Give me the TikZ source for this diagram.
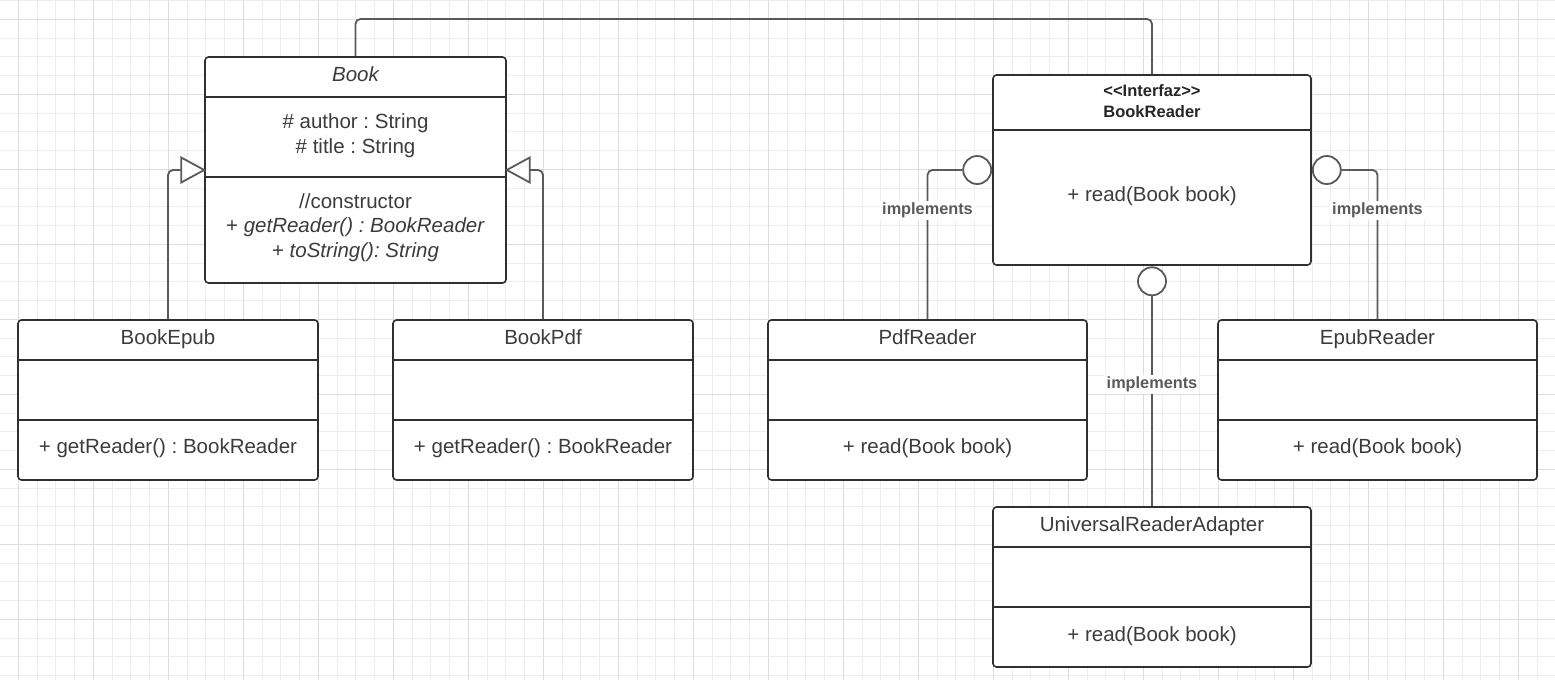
\documentclass[tikz,border=0pt]{standalone}
\usepackage{fontspec}
\setmainfont{Liberation Sans}
\usetikzlibrary{calc}
\frenchspacing
\definecolor{gridlt}{HTML}{EDEDED}
\definecolor{griddk}{HTML}{DDDDDD}
\definecolor{boxline}{HTML}{2F3033}
\definecolor{connline}{HTML}{5A5A5A}
\definecolor{txtcol}{HTML}{3C3C40}
\tikzset{
  classbox/.style={draw=boxline, line width=1.6pt, fill=white, rounded corners=3.5pt, inner sep=0pt},
  divider/.style={draw=boxline, line width=1.6pt},
  txt/.style={text=txtcol, font=\fontsize{20.5}{24.7}\selectfont, inner sep=0pt, align=center},
  oneline/.style={txt, text height=15.5pt, text depth=4.5pt},
  conn/.style={draw=connline, line width=1.8pt, rounded corners=5pt},
  lolli/.style={circle, draw=connline, line width=1.8pt, fill=white, minimum size=28pt, inner sep=0pt},
  impl/.style={text=connline, fill=white, font=\bfseries\fontsize{16.3}{18}\selectfont, inner sep=2pt, text height=12pt, text depth=3.5pt},
  gentri/.style={draw=connline, line width=1.8pt, fill=white, line join=miter},
}
\begin{document}
\begin{tikzpicture}[x=1pt,y=-1pt]
\useasboundingbox (0,0) rectangle (1555,680);
\fill[white] (0,0) rectangle (1555,680);
% grid
\foreach \i in {0,...,83} {
  \draw[gridlt, line width=0.9pt] ({-0.5+\i*18.75},0) -- ({-0.5+\i*18.75},680);
}
\foreach \i in {0,...,37} {
  \draw[gridlt, line width=0.9pt] (0,{0.5+\i*18.75}) -- (1555,{0.5+\i*18.75});
}
\foreach \i in {0,...,20} {
  \draw[griddk, line width=0.8pt] ({18.3+\i*75},0) -- ({18.3+\i*75},680);
}
\foreach \i in {0,...,9} {
  \draw[griddk, line width=0.8pt] (0,{19.3+\i*75}) -- (1555,{19.3+\i*75});
}

% ---- boxes ----
\node[classbox, minimum width=301pt, minimum height=226pt] (book) at (355.5,170) {};
\node[classbox, minimum width=300pt, minimum height=160pt] (bookepub) at (168,400) {};
\node[classbox, minimum width=300pt, minimum height=160pt] (bookpdf) at (543,400) {};
\node[classbox, minimum width=318pt, minimum height=190pt] (bookreader) at (1152,170) {};
\node[classbox, minimum width=319pt, minimum height=160pt] (pdfreader) at (927.5,400) {};
\node[classbox, minimum width=319pt, minimum height=160pt] (epubreader) at (1377.5,400) {};
\node[classbox, minimum width=318pt, minimum height=160pt] (ura) at (1152,587) {};

% dividers
\draw[divider] (book.west |- 0,97) -- (book.east |- 0,97);
\draw[divider] (book.west |- 0,177) -- (book.east |- 0,177);
\foreach \b in {bookepub,bookpdf,pdfreader,epubreader} {
  \draw[divider] (\b.west |- 0,360) -- (\b.east |- 0,360);
  \draw[divider] (\b.west |- 0,420) -- (\b.east |- 0,420);
}
\draw[divider] (ura.west |- 0,547) -- (ura.east |- 0,547);
\draw[divider] (ura.west |- 0,607) -- (ura.east |- 0,607);
\draw[divider] (bookreader.west |- 0,130) -- (bookreader.east |- 0,130);

% ---- texts ----
\node[oneline] (booktitle) at (355.5,76) {\itshape Book};
\node[txt] (bookattr) at (355.5,135.5) {\# author : String\\\# title : String};
\node[txt] (bookmeth) at (355.5,227.5) {//constructor\\+ \textit{getReader() : BookReader}\\+ \textit{toString(): String}};

\node[oneline] (epubtitle) at (168,338.5) {BookEpub};
\node[oneline] (epubmeth) at (168,448) {+ getReader() : BookReader};
\node[oneline] (pdftitle) at (543,338.5) {BookPdf};
\node[oneline] (pdfmeth) at (543,448) {+ getReader() : BookReader};

\node[txt, text=black!85, font=\bfseries\fontsize{16.5}{20.5}\selectfont] (brtitle) at (1152,101) {{<}{<}Interfaz{>}{>}\\BookReader};
\node[oneline] (brmeth) at (1152,195.5) {+ read(Book book)};

\node[oneline] (prtitle) at (927.5,338.5) {PdfReader};
\node[oneline] (prmeth) at (927.5,448) {+ read(Book book)};
\node[oneline] (ertitle) at (1377.5,338.5) {EpubReader};
\node[oneline] (ermeth) at (1377.5,448) {+ read(Book book)};
\node[oneline] (uratitle) at (1152,526) {UniversalReaderAdapter};
\node[oneline] (urameth) at (1152,635.5) {+ read(Book book)};

% ---- connectors ----
% association Book -- BookReader
\draw[conn] (book.north) -- (book.north |- 0,19) -- (bookreader.north |- 0,19) -- (bookreader.north);

% generalizations
\coordinate (tipL) at (book.west);
\coordinate (tipR) at (book.east);
\draw[conn] (bookepub.north) -- (bookepub.north |- tipL) -- ([xshift=-23pt]tipL);
\draw[gentri] (tipL) -- ([xshift=-23pt,yshift=12.5pt]tipL) -- ([xshift=-23pt,yshift=-12.5pt]tipL) -- cycle;
\draw[conn] (bookpdf.north) -- (bookpdf.north |- tipR) -- ([xshift=23pt]tipR);
\draw[gentri] (tipR) -- ([xshift=23pt,yshift=12.5pt]tipR) -- ([xshift=23pt,yshift=-12.5pt]tipR) -- cycle;

% lollipops
\node[lolli] (lolL) at ([xshift=-15pt]bookreader.west) {};
\node[lolli] (lolR) at ([xshift=15pt]bookreader.east) {};
\node[lolli] (lolB) at ([yshift=-15.5pt]bookreader.south) {};
\draw[conn] (lolL.west) -- (pdfreader.north |- lolL) -- (pdfreader.north);
\draw[conn] (lolR.east) -- (epubreader.north |- lolR) -- (epubreader.north);
\draw[conn] (lolB.south) -- (ura.north);

\node[impl] (implL) at (pdfreader.north |- 0,210.5) {implements};
\node[impl] (implR) at (epubreader.north |- 0,210.5) {implements};
\node[impl] (implB) at (ura.north |- 0,384.5) {implements};
\end{tikzpicture}
\end{document}
